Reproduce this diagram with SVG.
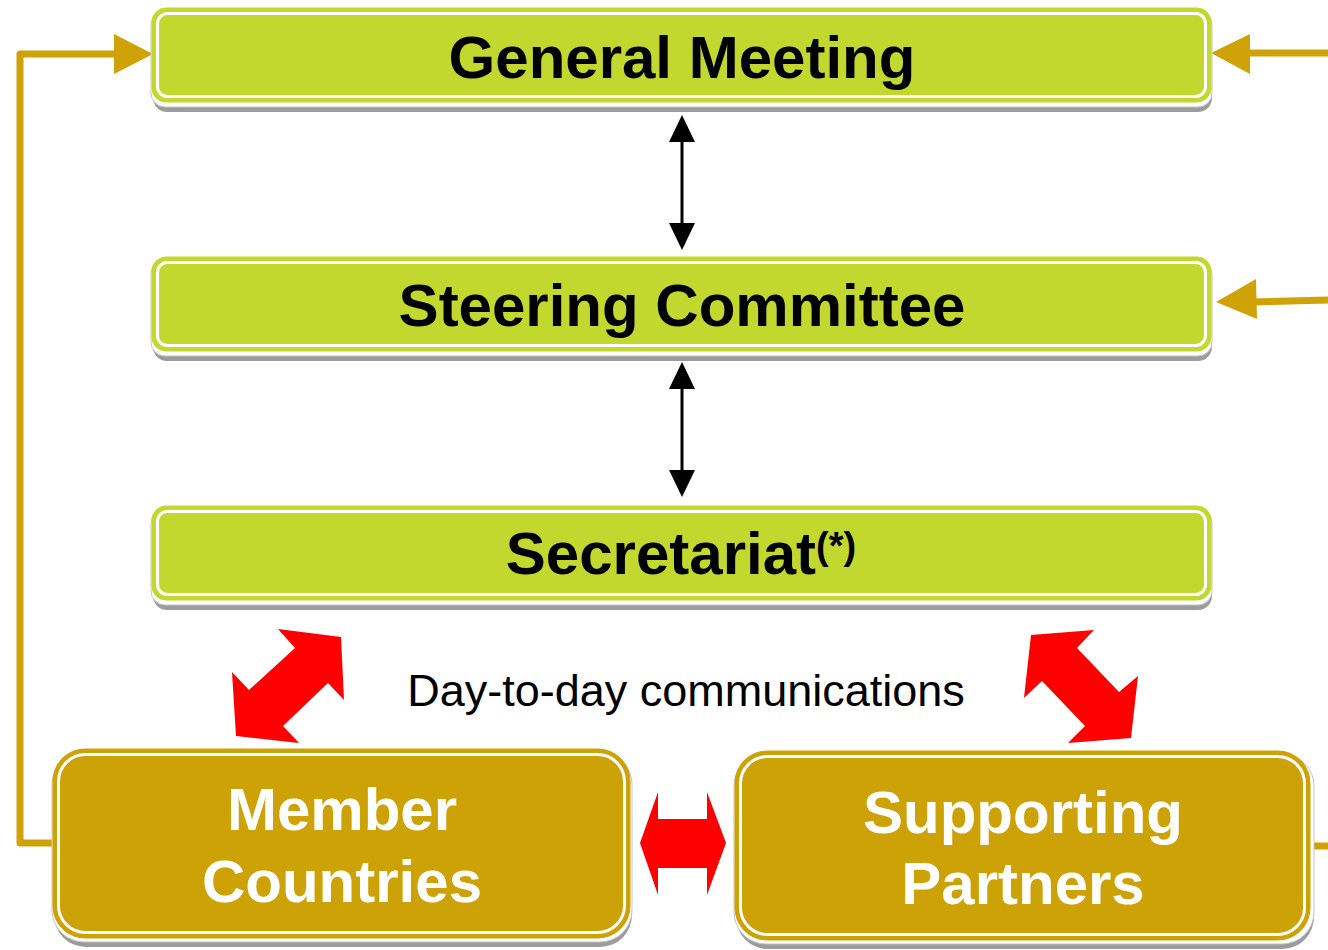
<svg xmlns="http://www.w3.org/2000/svg" width="1328" height="950" viewBox="0 0 1328 950">
<defs>
<style>
.sh1{fill:#9c9c9c}
.sh2{fill:#ffffff;stroke:#c4c4c4;stroke-width:1}
.lime{fill:#c3d82f;stroke:#c3d82f;stroke-width:1}
.gold{fill:#cda206;stroke:#cda206;stroke-width:1}
.inner{fill:none;stroke:#ffffff;stroke-width:3}
.tb{font-family:"Liberation Sans",Arial,sans-serif;font-weight:bold;font-size:60px;text-anchor:middle}
.blk{fill:#000}
.wht{fill:#fff}
.oline{fill:none;stroke:#cfa208;stroke-width:7;stroke-linejoin:round}
.ohead{fill:#cfa208}
.red{fill:#ff0000}
.bl{stroke:#000;stroke-width:3}
</style>
</defs>
<g id="connectors">
<path class="oline" d="M53,843 H20 V54 H116"/>
<polygon class="ohead" points="114,34 153,54 114,74"/>
<path class="oline" d="M1328,53 H1248"/>
<polygon class="ohead" points="1250,34 1211,53 1250,74"/>
<path class="oline" d="M1328,300 L1254,302"/>
<polygon class="ohead" points="1256,279 1216,302 1257,319"/>
<path class="oline" d="M1310,846 H1328"/>
<line class="bl" x1="682" y1="138" x2="682" y2="227"/>
<polygon class="blk" points="682,115 695,142 669,142"/>
<polygon class="blk" points="682,250 695,223 669,223"/>
<line class="bl" x1="682" y1="385" x2="682" y2="474"/>
<polygon class="blk" points="682,362 695,389 669,389"/>
<polygon class="blk" points="682,497 695,470 669,470"/>
<polygon class="red" points="341,637 344,700 328,683 283,726 299,743 236,736 232,672 249,690 295,648 278,629"/>
<polygon class="red" points="1031,635 1094,630 1077,648 1119,692 1138,676 1131,738 1068,743 1085,726 1042,681 1024,698"/>
<polygon class="red" points="640,843 658,792 658,819 707,819 707,792 726,843 707,895 707,868 658,868 658,895"/>
<text x="686" y="706" style="font-family:'Liberation Sans',Arial,sans-serif;font-size:45px;text-anchor:middle" class="blk">Day-to-day communications</text>
</g>
<g id="general-meeting">
<rect class="sh1" x="153" y="16" width="1059" height="96" rx="14"/>
<rect class="sh2" x="151" y="11" width="1061" height="96" rx="14"/>
<rect class="lime" x="152" y="8" width="1059" height="94" rx="14"/>
<rect class="inner" x="157.5" y="13.5" width="1048" height="83" rx="10"/>
<text class="tb blk" x="682" y="78">General Meeting</text>
</g>
<g id="steering-committee">
<rect class="sh1" x="153" y="265" width="1059" height="96" rx="14"/>
<rect class="sh2" x="151" y="260" width="1061" height="96" rx="14"/>
<rect class="lime" x="152" y="257" width="1059" height="94" rx="14"/>
<rect class="inner" x="157.5" y="262.5" width="1048" height="83" rx="10"/>
<text class="tb blk" x="682" y="326">Steering Committee</text>
</g>
<g id="secretariat">
<rect class="sh1" x="153" y="514" width="1059" height="96" rx="14"/>
<rect class="sh2" x="151" y="509" width="1061" height="96" rx="14"/>
<rect class="lime" x="152" y="506" width="1059" height="94" rx="14"/>
<rect class="inner" x="157.5" y="511.5" width="1048" height="83" rx="10"/>
<text class="tb blk" x="681" y="574">Secretariat<tspan font-size="38" dy="-15">(*)</tspan></text>
</g>
<g id="member-countries">
<rect class="sh1" x="54" y="757" width="578" height="190" rx="32"/>
<rect class="sh2" x="52" y="752" width="580" height="190" rx="32"/>
<rect class="gold" x="53" y="749" width="577" height="189" rx="32"/>
<rect class="inner" x="58.5" y="754.5" width="566" height="178" rx="27"/>
<text class="tb wht" x="342" y="830">Member</text>
<text class="tb wht" x="342" y="902">Countries</text>
</g>
<g id="supporting-partners">
<rect class="sh1" x="736" y="759" width="578" height="190" rx="32"/>
<rect class="sh2" x="734" y="754" width="580" height="190" rx="32"/>
<rect class="gold" x="735" y="751" width="575" height="189" rx="32"/>
<rect class="inner" x="740.5" y="756.5" width="564" height="178" rx="27"/>
<text class="tb wht" x="1023" y="833">Supporting</text>
<text class="tb wht" x="1023" y="904">Partners</text>
</g>
</svg>
